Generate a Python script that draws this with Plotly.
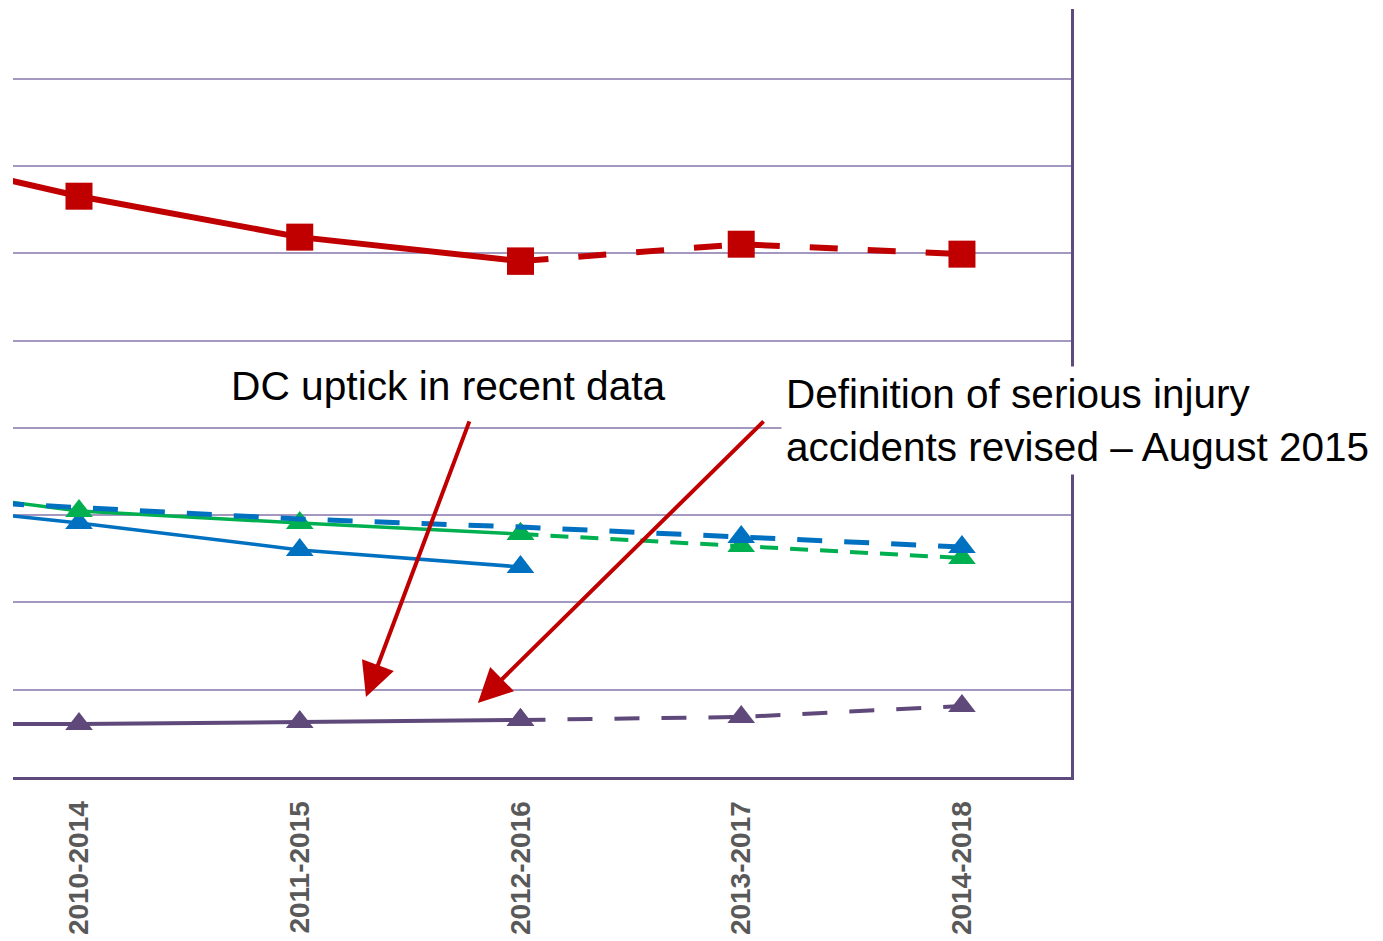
import plotly.graph_objects as go

# Categories (first one is the earlier period whose line segment enters from the left edge)
periods = ["2009-2013", "2010-2014", "2011-2015", "2012-2016", "2013-2017", "2014-2018"]

# Values (arbitrary units, gridline step = 1)
red_solid = [7.23, 6.655, 6.186, 5.911, None, None]
red_dashed = [None, None, None, 5.911, 6.105, 5.991]

blue_solid = [3.18, 2.911, 2.602, 2.407, None, None]
blue_dashed = [3.22, 3.082, 2.955, 2.864, 2.749, 2.635]

green_solid = [3.37, 3.049, 2.909, 2.783, None, None]
green_dashed = [None, None, None, 2.783, 2.646, 2.509]

purple_solid = [0.607, 0.607, 0.630, 0.653, None, None]
purple_dashed = [None, None, None, 0.653, 0.688, 0.814]

RED = "#C00000"
BLUE = "#0070C0"
GREEN = "#00B050"
PURPLE = "#5F497A"
AXIS = "#5E4B7E"
GRID = "#A498C0"

fig = go.Figure()

def add(y, color, width, dash, symbol, size, marker_mask=None):
    mask = marker_mask if marker_mask is not None else [1] * len(y)
    sizes = [size if m else 0 for m in mask]
    fig.add_trace(go.Scatter(
        x=periods, y=y, mode="lines+markers",
        line=dict(color=color, width=width, dash=dash),
        marker=dict(symbol=symbol, size=sizes, color=color, opacity=1, line=dict(width=0)),
        connectgaps=False, showlegend=False, hoverinfo="skip",
    ))

TRI = 24
add(blue_solid, BLUE, 3.5, "solid", "triangle-up", TRI)
add(green_solid, GREEN, 3.5, "solid", "triangle-up", TRI)
add(green_dashed, GREEN, 4, "18px,12px", "triangle-up", TRI)
add(blue_dashed, BLUE, 5, "25px,22px", "triangle-up", TRI, [0, 0, 0, 0, 1, 1])
add(red_solid, RED, 6, "solid", "square", 27)
add(red_dashed, RED, 6, "28px,30px", "square", 27)
add(purple_solid, PURPLE, 4, "solid", "triangle-up", TRI)
add(purple_dashed, PURPLE, 4, "25px,22px", "triangle-up", TRI)

ANN_FONT = "Liberation Sans, Arial, sans-serif"

annotations = [
    dict(x=2.676, y=4.48, xref="x", yref="y", text="DC uptick in recent data",
         showarrow=False, font=dict(family=ANN_FONT, size=40.7, color="black"),
         xanchor="center", yanchor="middle"),
    dict(x=4.18, y=4.09, xref="x", yref="y",
         text="Definition of serious injury<br>accidents revised – August 2015",
         showarrow=False, align="left", xanchor="left", yanchor="middle",
         bgcolor="white", borderpad=4,
         font=dict(family=ANN_FONT, size=40.5, color="black")),
    dict(x=2.300, y=0.917, ax=2.771, ay=4.092, xref="x", yref="y", axref="x", ayref="y",
         text="", showarrow=True, arrowhead=2, arrowsize=1.7, arrowwidth=4, arrowcolor=RED),
    dict(x=2.807, y=0.848, ax=4.108, ay=4.092, xref="x", yref="y", axref="x", ayref="y",
         text="", showarrow=True, arrowhead=2, arrowsize=1.7, arrowwidth=4, arrowcolor=RED),
]

# The page body has an 8px margin, so the figure is sized/margined to compensate.
fig.update_layout(
    width=1375, height=933,
    margin=dict(l=5, r=312, t=1, b=164, autoexpand=False),
    paper_bgcolor="white", plot_bgcolor="white",
    showlegend=False,
    annotations=annotations,
    xaxis=dict(
        type="category", categoryorder="array", categoryarray=periods,
        range=[0.701, 5.494], showgrid=False, zeroline=False, automargin=False,
        showline=True, linecolor=AXIS, linewidth=3,
        ticks="outside", ticklen=10, tickcolor="rgba(0,0,0,0)",
        tickangle=-90,
        tickfont=dict(family="Liberation Sans, Arial", size=28,
                      color="#595959", weight="bold"),
    ),
    yaxis=dict(
        range=[0, 8.80], dtick=1, side="right", automargin=False,
        showgrid=True, gridcolor=GRID, gridwidth=2,
        zeroline=False, showline=True, linecolor=AXIS, linewidth=3,
        showticklabels=False, ticks="",
    ),
)

fig.write_html("out.html")
